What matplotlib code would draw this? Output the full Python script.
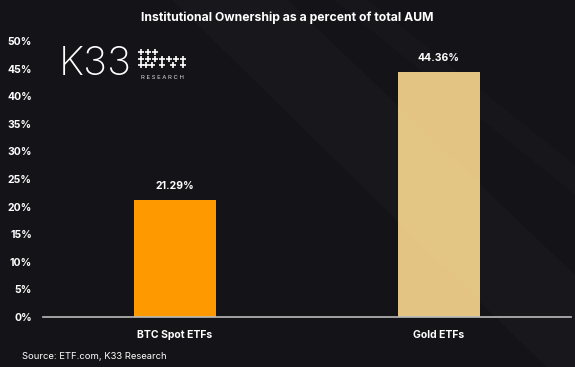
import matplotlib.pyplot as plt
from matplotlib.patches import Polygon
from matplotlib.lines import Line2D

categories = ["BTC Spot ETFs", "Gold ETFs"]
values = [21.29, 44.36]
colors = ["#FF9900", "#E3C482"]
yticks = [0, 5, 10, 15, 20, 25, 30, 35, 40, 45, 50]

bg = "#141318"
plt.rcParams["font.family"] = ["Inter", "DejaVu Sans"]

fig = plt.figure(figsize=(5.75, 3.67), dpi=100, facecolor=bg)

# faint diagonal texture in the background
for pts, a in [([(0.3, 1), (0.5, 1), (1, 0.25), (1, 0.0), (0.95, 0)], 0.018),
               ([(0.58, 1), (0.64, 1), (1, 0.55), (1, 0.47)], 0.015)]:
    fig.patches.append(Polygon(pts, closed=True, transform=fig.transFigure,
                               facecolor="white", alpha=a, edgecolor="none", zorder=0))

ax = fig.add_axes([0.0748, 0.1362, 0.918, 0.752])
ax.set_facecolor("none")

x = range(len(categories))
bars = ax.bar(x, values, width=0.31, color=colors, zorder=2)
for b, v in zip(bars, values):
    ax.text(b.get_x() + b.get_width() / 2, v + 1.6, f"{v:.2f}%", ha="center", va="bottom",
            color="white", fontsize=7.5, fontweight="bold")

ax.set_xlim(-0.5, 1.5)
ax.set_ylim(0, 50)
ax.set_yticks(yticks)
ax.set_yticklabels([f"{t}%" for t in yticks])
ax.set_xticks(list(x))
ax.set_xticklabels(categories)
ax.tick_params(axis="both", length=0, colors="white", labelsize=7.5)
ax.tick_params(axis="y", pad=8)
ax.tick_params(axis="x", pad=9)
for lab in ax.get_xticklabels() + ax.get_yticklabels():
    lab.set_fontweight("bold")
for s in ["top", "right", "left"]:
    ax.spines[s].set_visible(False)
ax.spines["bottom"].set_color("#BBBBBB")
ax.spines["bottom"].set_linewidth(1.2)

fig.text(0.5, 0.952, "Institutional Ownership as a percent of total AUM", ha="center", va="center",
         color="white", fontsize=8.8, fontweight="bold")
fig.text(0.038, 0.028, "Source: ETF.com, K33 Research", ha="left", va="center",
         color="white", fontsize=6.8)

# K33 Research logo
fig.text(0.165, 0.823, "K33", ha="center", va="center", color="white", fontsize=29, fontweight="light")
dot_rows = ["111", "1111111", "111 1 1 1"]
for r, row in enumerate(dot_rows):
    step = 0.0122 if r < 2 else 0.0061 * 2 * 6 / 8
    for c, ch in enumerate(row):
        if ch == "1":
            fig.add_artist(Line2D([0.2455 + c * step], [0.858 - r * 0.0175],
                                  transform=fig.transFigure, marker="+", markersize=4,
                                  markeredgewidth=1.2, color="white"))
fig.text(0.2445, 0.79, "R E S E A R C H", ha="left", va="center", color="#DDDDDD", fontsize=4.3)

fig.savefig("out.png", dpi=100, facecolor=bg)
